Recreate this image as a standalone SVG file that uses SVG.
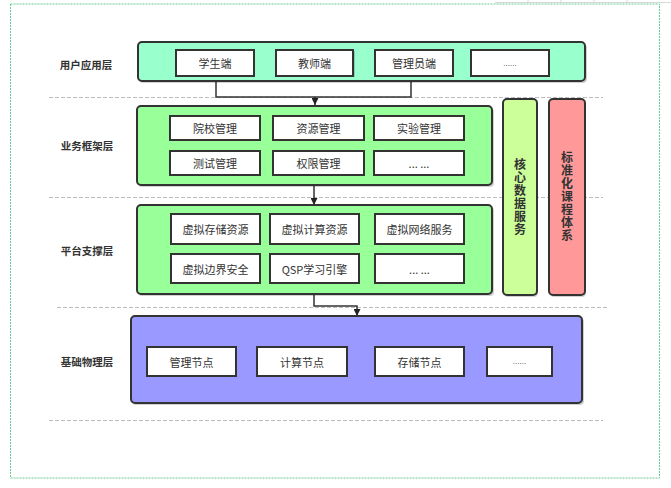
<svg xmlns="http://www.w3.org/2000/svg" width="671" height="488" viewBox="0 0 671 488">
<defs>
<style>
.outer{stroke:#333;stroke-width:2}
.inner{fill:#fff;stroke:#333;stroke-width:2}
.sh{fill:#000;opacity:0.18}
.t{font-family:"Noto Sans CJK SC","Liberation Sans",sans-serif;font-size:11px;fill:#333;text-anchor:middle;dominant-baseline:central}
.lbl{font-family:"Noto Sans CJK SC","Liberation Sans",sans-serif;font-size:10.5px;font-weight:bold;fill:#333;text-anchor:middle;dominant-baseline:central}
.vt{font-family:"Noto Sans CJK SC","Liberation Sans",sans-serif;font-size:12px;font-weight:bold;fill:#333;text-anchor:middle;writing-mode:vertical-rl;letter-spacing:1px}
.dots{font-family:"Liberation Sans",sans-serif;font-size:8px;fill:#333;text-anchor:middle;dominant-baseline:central}
.dash{stroke:#bbb;stroke-width:1;stroke-dasharray:4 2;fill:none}
.conn{stroke:#333;stroke-width:1.5;fill:none}
</style>
<marker id="arr" viewBox="0 0 10 10" refX="10" refY="5" markerWidth="7" markerHeight="7" orient="auto" markerUnits="userSpaceOnUse">
<path d="M0,0 L10,5 L0,10 Z" fill="#222"/>
</marker>
</defs>
<rect width="671" height="488" fill="#fff"/>
<!-- spreadsheet gridlines at top -->
<g stroke="#d8d8d8" stroke-width="1">
<line x1="495" y1="2.5" x2="671" y2="2.5"/>
<line x1="528" y1="0" x2="528" y2="3"/>
<line x1="561" y1="0" x2="561" y2="3"/>
<line x1="594" y1="0" x2="594" y2="3"/>
<line x1="627" y1="0" x2="627" y2="3"/>
</g>
<!-- page border -->
<rect x="10.5" y="4" width="649" height="474" fill="none" stroke="#66cc99" stroke-width="1" stroke-dasharray="2 1"/>
<!-- separators -->
<g id="separators">
<line class="dash" x1="49" y1="97.5" x2="603" y2="97.5"/>
<line class="dash" x1="49" y1="197.5" x2="603" y2="197.5"/>
<line class="dash" x1="57" y1="307.5" x2="608" y2="307.5"/>
<line class="dash" x1="49" y1="420.5" x2="603" y2="420.5"/>
</g>
<!-- layer labels -->
<g id="labels">
<text class="lbl" x="86" y="64">用户应用层</text>
<text class="lbl" x="87" y="145">业务框架层</text>
<text class="lbl" x="87" y="250">平台支撑层</text>
<text class="lbl" x="87" y="361">基础物理层</text>
</g>
<!-- connectors -->
<g id="connectors">
<path class="conn" d="M216,81 V97 H411 V81"/>
<path class="conn" d="M315,97 V105" marker-end="url(#arr)"/>
<path class="conn" d="M314,185 V205" marker-end="url(#arr)"/>
<path class="conn" d="M314,294 V306 H357 V316" marker-end="url(#arr)"/>
</g>
<!-- user layer -->
<g id="user-layer">
<rect class="sh" x="139" y="44" width="448" height="39" rx="4"/>
<rect class="outer" x="138" y="42" width="447" height="39" rx="4" fill="#99ffcc"/>
<g id="student"><rect class="sh" x="177" y="51" width="78" height="26"/><rect class="inner" x="176" y="50" width="78" height="26"/><text class="t" x="215" y="63">学生端</text></g>
<g id="teacher"><rect class="sh" x="277" y="51" width="78" height="26"/><rect class="inner" x="276" y="50" width="77" height="26"/><text class="t" x="314.5" y="63">教师端</text></g>
<g id="admin"><rect class="sh" x="376" y="51" width="78" height="26"/><rect class="inner" x="375" y="50" width="78" height="26"/><text class="t" x="414" y="63">管理员端</text></g>
<g id="user-more"><rect class="sh" x="472" y="51" width="78" height="26"/><rect class="inner" x="471" y="50" width="78" height="26"/><text class="dots" x="510" y="63">......</text></g>
</g>
<!-- business layer -->
<g id="business-layer">
<rect class="sh" x="138" y="108" width="356" height="79" rx="4"/>
<rect class="outer" x="137" y="106" width="355" height="79" rx="4" fill="#99ff99"/>
<g id="school"><rect class="sh" x="171" y="117" width="90" height="24"/><rect class="inner" x="170" y="116" width="90" height="24"/><text class="t" x="215" y="128">院校管理</text></g>
<g id="resource"><rect class="sh" x="274" y="117" width="91" height="24"/><rect class="inner" x="273" y="116" width="91" height="24"/><text class="t" x="318.5" y="128">资源管理</text></g>
<g id="lab"><rect class="sh" x="375" y="117" width="90" height="24"/><rect class="inner" x="374" y="116" width="90" height="24"/><text class="t" x="419" y="128">实验管理</text></g>
<g id="test"><rect class="sh" x="171" y="152" width="90" height="24"/><rect class="inner" x="170" y="151" width="90" height="24"/><text class="t" x="215" y="163">测试管理</text></g>
<g id="perm"><rect class="sh" x="274" y="152" width="91" height="24"/><rect class="inner" x="273" y="151" width="91" height="24"/><text class="t" x="318.5" y="163">权限管理</text></g>
<g id="biz-more"><rect class="sh" x="375" y="152" width="90" height="24"/><rect class="inner" x="374" y="151" width="90" height="24"/><text class="t" x="419" y="163">... ...</text></g>
</g>
<!-- platform layer -->
<g id="platform-layer">
<rect class="sh" x="138" y="207" width="356" height="89" rx="4"/>
<rect class="outer" x="137" y="205" width="355" height="89" rx="4" fill="#99ff99"/>
<g id="vstore"><rect class="sh" x="172" y="215" width="89" height="30"/><rect class="inner" x="171" y="214" width="89" height="30"/><text class="t" x="215.5" y="229">虚拟存储资源</text></g>
<g id="vcompute"><rect class="sh" x="271" y="215" width="89" height="30"/><rect class="inner" x="270" y="214" width="89" height="30"/><text class="t" x="314.5" y="229">虚拟计算资源</text></g>
<g id="vnet"><rect class="sh" x="376" y="215" width="89" height="30"/><rect class="inner" x="375" y="214" width="89" height="30"/><text class="t" x="419.5" y="229">虚拟网络服务</text></g>
<g id="vedge"><rect class="sh" x="172" y="255" width="89" height="29"/><rect class="inner" x="171" y="254" width="89" height="29"/><text class="t" x="215.5" y="268.5">虚拟边界安全</text></g>
<g id="qsp"><rect class="sh" x="271" y="255" width="89" height="29"/><rect class="inner" x="270" y="254" width="89" height="29"/><text class="t" x="314.5" y="268.5">QSP学习引擎</text></g>
<g id="plat-more"><rect class="sh" x="376" y="255" width="89" height="29"/><rect class="inner" x="375" y="254" width="89" height="29"/><text class="t" x="419.5" y="268.5">... ...</text></g>
</g>
<!-- core data service -->
<g id="core-data">
<rect class="sh" x="504" y="101" width="34" height="196" rx="4"/>
<rect class="outer" x="503" y="99" width="34" height="196" rx="4" fill="#ccff99"/>
<text class="vt" x="520" y="197">核心数据服务</text>
</g>
<!-- standard curriculum -->
<g id="curriculum">
<rect class="sh" x="550" y="101" width="36" height="196" rx="4"/>
<rect class="outer" x="549" y="99" width="36" height="196" rx="4" fill="#ff9999"/>
<text class="vt" x="567" y="197">标准化课程体系</text>
</g>
<!-- physical layer -->
<g id="physical-layer">
<rect class="sh" x="132" y="318" width="452" height="87" rx="4"/>
<rect class="outer" x="131" y="316" width="451" height="87" rx="4" fill="#9999ff"/>
<g id="mgmt-node"><rect class="sh" x="148" y="348" width="89" height="29"/><rect class="inner" x="147" y="347" width="89" height="29"/><text class="t" x="191.5" y="361.5">管理节点</text></g>
<g id="compute-node"><rect class="sh" x="258" y="348" width="90" height="29"/><rect class="inner" x="257" y="347" width="90" height="29"/><text class="t" x="302" y="361.5">计算节点</text></g>
<g id="storage-node"><rect class="sh" x="376" y="348" width="89" height="29"/><rect class="inner" x="375" y="347" width="89" height="29"/><text class="t" x="419.5" y="361.5">存储节点</text></g>
<g id="phys-more"><rect class="sh" x="488" y="348" width="65" height="29"/><rect class="inner" x="487" y="347" width="65" height="29"/><text class="dots" x="519.5" y="361.5">......</text></g>
</g>
</svg>
